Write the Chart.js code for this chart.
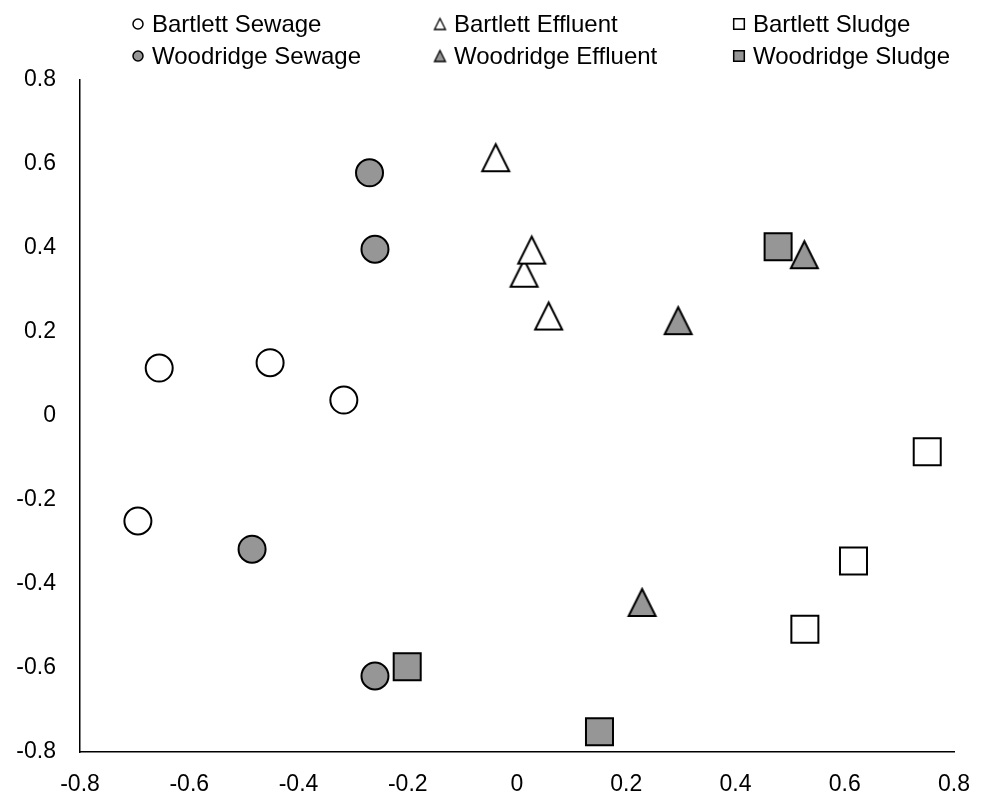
<!DOCTYPE html>
<html>
<head>
<meta charset="utf-8">
<style>
  html, body { margin: 0; padding: 0; background: #fff; }
</style>
</head>
<body>
<canvas id="myChart" width="984" height="795"></canvas>
<script src="https://cdn.jsdelivr.net/npm/chart.js"></script>
<script>
// values
const bartlettSewageX = [-0.655, -0.452, -0.317, -0.694];
const bartlettSewageY = [0.114, 0.127, 0.038, -0.25];
const woodridgeSewageX = [-0.270, -0.260, -0.485, -0.260];
const woodridgeSewageY = [0.579, 0.397, -0.317, -0.619];
const bartlettEffluentX = [-0.039, 0.013, 0.027, 0.058];
const bartlettEffluentY = [0.615, 0.340, 0.395, 0.238];
const woodridgeEffluentX = [0.526, 0.295, 0.229];
const woodridgeEffluentY = [0.384, 0.227, -0.444];
const bartlettSludgeX = [0.751, 0.616, 0.527];
const bartlettSludgeY = [-0.085, -0.345, -0.508];
const woodridgeSludgeX = [0.478, -0.201, 0.151];
const woodridgeSludgeY = [0.403, -0.597, -0.752];

const axisMin = -0.8;
const axisMax = 0.8;
const axisStep = 0.2;

const WHITE = '#ffffff';
const GREY = '#969696';
const FONT = '"Liberation Sans", Arial, sans-serif';

const toPoints = (xs, ys) => xs.map((x, i) => ({ x: x, y: ys[i] }));

// excel-like triangle marker (box centred on the value)
function makeTriangle(fill, size, lw) {
  const c = document.createElement('canvas');
  const pad = Math.ceil(lw * 2);
  c.width = c.height = size + pad * 2;
  const g = c.getContext('2d');
  g.beginPath();
  g.moveTo(pad + size / 2, pad);
  g.lineTo(pad + size, pad + size);
  g.lineTo(pad, pad + size);
  g.closePath();
  g.fillStyle = fill;
  g.fill();
  g.lineWidth = lw;
  g.strokeStyle = '#000';
  g.stroke();
  return c;
}

const triWhite = makeTriangle(WHITE, 27, 2);
const triGrey = makeTriangle(GREY, 27, 2);
const triWhiteSmall = makeTriangle(WHITE, 11, 1.3);
const triGreySmall = makeTriangle(GREY, 11, 1.3);

const mk = (label, xs, ys, style, fill, radius, legendStyle, legendRadius) => ({
  label: label,
  data: toPoints(xs, ys),
  pointStyle: style,
  pointRadius: radius,
  pointBackgroundColor: fill,
  backgroundColor: fill,
  pointBorderColor: '#000',
  pointBorderWidth: 2,
  showLine: false,
  legendStyle: legendStyle,
  legendRadius: legendRadius,
});

// first dataset is drawn on top
const datasets = [
  mk('Woodridge Effluent', woodridgeEffluentX, woodridgeEffluentY, triGrey, GREY, 15, triGreySmall, 6),
  mk('Bartlett Effluent', bartlettEffluentX, bartlettEffluentY, triWhite, WHITE, 15, triWhiteSmall, 6),
  mk('Woodridge Sludge', woodridgeSludgeX, woodridgeSludgeY, 'rect', GREY, 19.1, 'rect', 7.5),
  mk('Bartlett Sludge', bartlettSludgeX, bartlettSludgeY, 'rect', WHITE, 19.1, 'rect', 7.5),
  mk('Woodridge Sewage', woodridgeSewageX, woodridgeSewageY, 'circle', GREY, 13.5, 'circle', 5),
  mk('Bartlett Sewage', bartlettSewageX, bartlettSewageY, 'circle', WHITE, 13.5, 'circle', 5),
];

const legendOrder = [
  'Bartlett Sewage', 'Bartlett Effluent', 'Bartlett Sludge',
  'Woodridge Sewage', 'Woodridge Effluent', 'Woodridge Sludge',
];

// two-row legend, columns aligned like the original
const gridLegend = {
  id: 'gridLegend',
  afterDraw(chart) {
    const ctx = chart.ctx;
    const colX = [138, 440, 739];
    const rowY = [24, 56];
    ctx.save();
    ctx.font = '24px ' + FONT;
    ctx.textBaseline = 'middle';
    ctx.textAlign = 'left';
    legendOrder.forEach((name, i) => {
      const ds = chart.data.datasets.find((d) => d.label === name);
      const x = colX[i % 3];
      const y = rowY[Math.floor(i / 3)];
      ctx.fillStyle = ds.pointBackgroundColor;
      ctx.strokeStyle = '#000';
      ctx.lineWidth = 1.5;
      Chart.helpers.drawPoint(ctx, {
        pointStyle: ds.legendStyle,
        radius: ds.legendRadius,
        borderWidth: 1.5,
        rotation: 0,
      }, x, y);
      ctx.fillStyle = '#000';
      ctx.fillText(ds.label, x + 14, y + 1);
    });
    ctx.restore();
  },
};

const tickFmt = (v) => String(Math.round(v * 10) / 10);

const config = {
  type: 'scatter',
  data: { datasets: datasets },
  options: {
    responsive: false,
    animation: false,
    events: [],
    layout: { padding: { top: 80, right: 30, left: 0, bottom: 0 } },
    plugins: {
      legend: { display: false },
      tooltip: { enabled: false },
    },
    scales: {
      x: {
        type: 'linear',
        min: axisMin,
        max: axisMax,
        grid: { display: false },
        border: { display: true, color: '#000', width: 1.5 },
        ticks: {
          stepSize: axisStep,
          color: '#000',
          font: { family: FONT, size: 23 },
          padding: 11,
          maxRotation: 0,
          callback: tickFmt,
        },
        afterFit: (s) => { s.height = 43; },
      },
      y: {
        type: 'linear',
        min: axisMin,
        max: axisMax,
        grid: { display: false },
        border: { display: true, color: '#000', width: 1.5 },
        ticks: {
          stepSize: axisStep,
          color: '#000',
          font: { family: FONT, size: 23 },
          padding: 16,
          callback: tickFmt,
        },
        afterFit: (s) => { s.width = 80; },
      },
    },
  },
  plugins: [gridLegend],
};

var myChart = new Chart(document.getElementById('myChart'), config);
</script>
</body>
</html>
